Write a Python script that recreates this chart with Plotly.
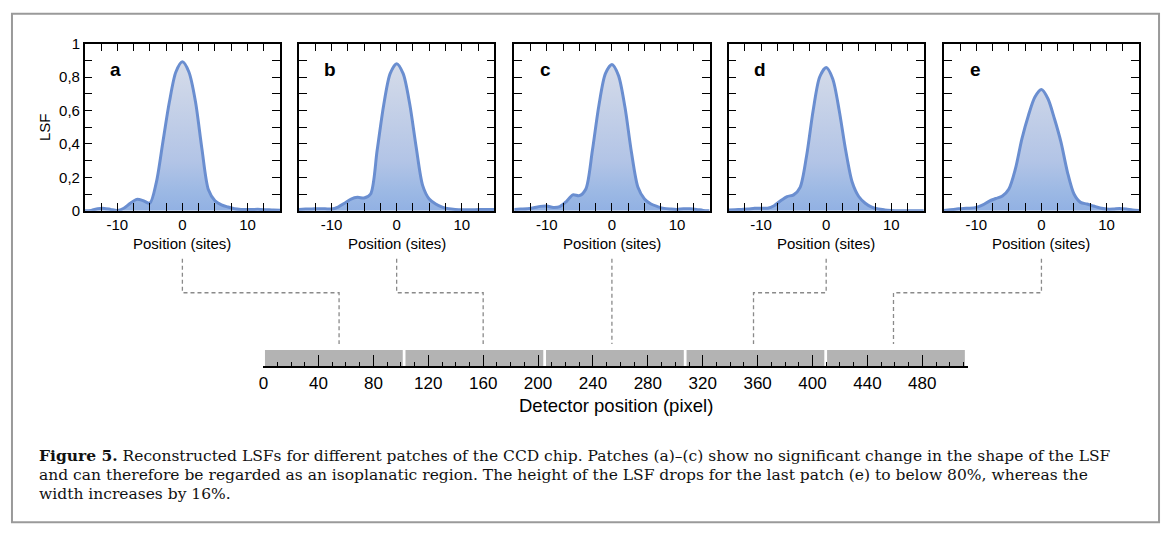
import plotly.graph_objects as go

W, H = 1169, 539

# ---- data -------------------------------------------------------------
sites = list(range(-15, 16))

lsf_a = [0.000, 0.002, 0.012, 0.014, 0.008, 0.002, 0.015, 0.045, 0.068, 0.060,
         0.045, 0.170, 0.410, 0.650, 0.830, 0.891, 0.830, 0.655, 0.370, 0.125,
         0.060, 0.035, 0.022, 0.012, 0.008, 0.007, 0.008, 0.008, 0.006, 0.004, 0.003]
lsf_b = [0.008, 0.010, 0.011, 0.012, 0.012, 0.010, 0.022, 0.045, 0.070, 0.080,
         0.076, 0.100, 0.360, 0.630, 0.820, 0.880, 0.820, 0.640, 0.380, 0.150,
         0.070, 0.040, 0.022, 0.012, 0.008, 0.006, 0.006, 0.006, 0.007, 0.008, 0.008]
lsf_c = [0.008, 0.010, 0.012, 0.018, 0.026, 0.028, 0.020, 0.025, 0.055, 0.095,
         0.090, 0.130, 0.360, 0.630, 0.820, 0.875, 0.810, 0.620, 0.350, 0.140,
         0.070, 0.040, 0.025, 0.014, 0.010, 0.008, 0.012, 0.012, 0.008, 0.002, 0.000]
lsf_d = [0.005, 0.006, 0.008, 0.010, 0.015, 0.015, 0.015, 0.030, 0.060, 0.085,
         0.095, 0.140, 0.330, 0.600, 0.800, 0.857, 0.790, 0.600, 0.360, 0.170,
         0.085, 0.045, 0.022, 0.010, 0.005, 0.002, 0.000, 0.000, 0.000, 0.000, 0.000]
lsf_e = [0.002, 0.006, 0.010, 0.014, 0.015, 0.020, 0.035, 0.058, 0.073, 0.088,
         0.130, 0.250, 0.430, 0.570, 0.680, 0.725, 0.670, 0.550, 0.410, 0.230,
         0.100, 0.050, 0.040, 0.028, 0.016, 0.010, 0.010, 0.013, 0.010, 0.004, 0.001]

lsf_panels = [lsf_a, lsf_b, lsf_c, lsf_d, lsf_e]
panel_letters = ["a", "b", "c", "d", "e"]

# detector patches (pixel units) and the pixel each LSF panel refers to
patch_centres = [51.2, 153.6, 256.0, 358.4, 460.8]
patch_width = 100.4
patch_height = [1, 1, 1, 1, 1]
probe_pixels = [55, 160, 255, 357, 459]

detector_ticks = list(range(0, 481, 40))
lsf_ticks = [0, 0.1, 0.2, 0.3, 0.4, 0.5, 0.6, 0.7, 0.8, 0.9, 1.0]
lsf_ticktext = ["0", "", "0,2", "", "0,4", "", "0,6", "", "0,8", "", "1"]
site_ticks = [-12.5, -10, -7.5, -5, -2.5, 0, 2.5, 5, 7.5, 10, 12.5]
site_ticktext = ["", "-10", "", "", "", "0", "", "", "", "10", ""]

# ---- layout geometry (pixels -> paper) ---------------------------------
def px_x(p):
    return p / W


def px_y(p):
    return 1 - p / H


panel_left = [81, 296, 512, 727, 943]
panel_w = 196
panel_top, panel_bottom = 35.7, 208.3
site_range = [-15, 15]

det_left, det_right = 259.8, 966.9
det_range = [-0.5, 513]
det_top, det_bottom = 352, 369

SANS = "Liberation Sans, Arial, sans-serif"
SERIF = "DejaVu Serif, Liberation Serif, serif"
LINE = "#6a8ed0"

fig = go.Figure()
layout = dict(
    width=W, height=H,
    margin=dict(l=0, r=0, t=0, b=0),
    paper_bgcolor="white", plot_bgcolor="white",
    showlegend=False, hovermode=False,
    font=dict(family=SANS, color="black"),
)

axis_common = dict(
    showline=True, linecolor="black", linewidth=1.5, mirror="ticks",
    ticks="inside", ticklen=8, tickwidth=1.3, tickcolor="black",
    showgrid=False, zeroline=False, tickfont=dict(size=15, family=SANS),
)

annotations = []
shapes = []


def paper_text(x, y, text, size, **kw):
    d = dict(x=px_x(x), y=px_y(y), xref="paper", yref="paper", text=text,
             showarrow=False, xanchor="center", yanchor="middle",
             font=dict(size=size, family=SANS, color="black"))
    d.update(kw)
    return d


for i, (vals, letter) in enumerate(zip(lsf_panels, panel_letters)):
    n = "" if i == 0 else str(i + 1)
    xd = [px_x(panel_left[i]), px_x(panel_left[i] + panel_w)]
    yd = [px_y(panel_bottom), px_y(panel_top)]
    fig.add_trace(go.Scatter(
        x=sites, y=vals, xaxis="x" + n, yaxis="y" + n,
        mode="lines", line=dict(color=LINE, width=3, shape="spline", smoothing=0.8),
        fill="tozeroy",
        fillgradient=dict(
            type="vertical", start=0, stop=0.9,
            colorscale=[[0, "#8fafe3"], [0.15, "#9bb8e4"], [0.35, "#b2c4e6"],
                        [1, "#d6dce9"]],
        ),
    ))
    layout["xaxis" + n] = dict(axis_common, domain=xd, range=site_range,
                               anchor="y" + n, tickvals=site_ticks,
                               ticktext=site_ticktext)
    layout["yaxis" + n] = dict(axis_common, domain=yd, range=[0, 1],
                               anchor="x" + n, tickvals=lsf_ticks,
                               ticktext=lsf_ticktext, showticklabels=(i == 0))
    annotations.append(dict(
        x=-10.2, y=0.845, xref="x" + n, yref="y" + n, text=f"<b>{letter}</b>",
        showarrow=False, xanchor="center", yanchor="middle",
        font=dict(size=19, family=SANS, color="black"),
    ))
    centre_x = xd[0] + (0 - site_range[0]) / (site_range[1] - site_range[0]) * (xd[1] - xd[0])
    annotations.append(paper_text(centre_x * W, 242, "Position (sites)", 15))

    # dashed connector from the panel down to its patch on the detector
    det_x = px_x(det_left) + (probe_pixels[i] - det_range[0]) / (det_range[1] - det_range[0]) \
        * (px_x(det_right) - px_x(det_left))
    dash = dict(color="#8a8a8a", width=1.3, dash="4px,3px")
    if abs(det_x - centre_x) * W < 4:
        shapes.append(dict(type="line", xref="paper", yref="paper", x0=centre_x, x1=centre_x,
                           y0=px_y(258), y1=px_y(346), line=dash))
    else:
        shapes.append(dict(type="path", xref="paper", yref="paper",
                           path=f"M {centre_x},{px_y(258)} L {centre_x},{px_y(293)} "
                                f"L {det_x},{px_y(293)} L {det_x},{px_y(346)}",
                           line=dash))

# detector strip
fig.add_trace(go.Bar(
    x=patch_centres, y=patch_height, width=patch_width, xaxis="x6", yaxis="y6",
    marker=dict(color="#b3b3b3", line=dict(width=0)),
))
layout["xaxis6"] = dict(
    domain=[px_x(det_left), px_x(det_right)], range=det_range, anchor="y6",
    showline=True, linecolor="black", linewidth=1.5,
    ticks="inside", ticklen=12, tickwidth=1.2, tickcolor="black",
    tickvals=detector_ticks, tickfont=dict(size=17, family=SANS),
    minor=dict(dtick=10, tick0=0, ticks="inside", ticklen=5, tickwidth=1, tickcolor="black"),
    showgrid=False, zeroline=False,
)
layout["yaxis6"] = dict(domain=[px_y(det_bottom), px_y(det_top)], range=[0, 1],
                        anchor="x6", visible=False)

annotations.append(paper_text(40, 122, "LSF", 15, textangle=-90))
annotations.append(paper_text(614, 409, "Detector position (pixel)", 18.5))

caption = [
    "<b>Figure 5.</b> Reconstructed LSFs for different patches of the CCD chip. "
    "Patches (a)–(c) show no significant change in the shape of the LSF",
    "and can therefore be regarded as an isoplanatic region. The height of the LSF "
    "drops for the last patch (e) to below 80%, whereas the",
    "width increases by 16%.",
]
for k, line in enumerate(caption):
    annotations.append(paper_text(34, 461 + 20 * k, line, 15.5, xanchor="left",
                                  borderpad=0,
                                  font=dict(size=15.5, family=SERIF, color="#111111")))

shapes.append(dict(type="rect", xref="paper", yref="paper",
                   x0=px_x(8), x1=px_x(1159), y0=px_y(530), y1=px_y(5),
                   line=dict(color="#9a9a9a", width=2)))

layout["annotations"] = annotations
layout["shapes"] = shapes
fig.update_layout(**layout)
fig.write_html("out.html")
